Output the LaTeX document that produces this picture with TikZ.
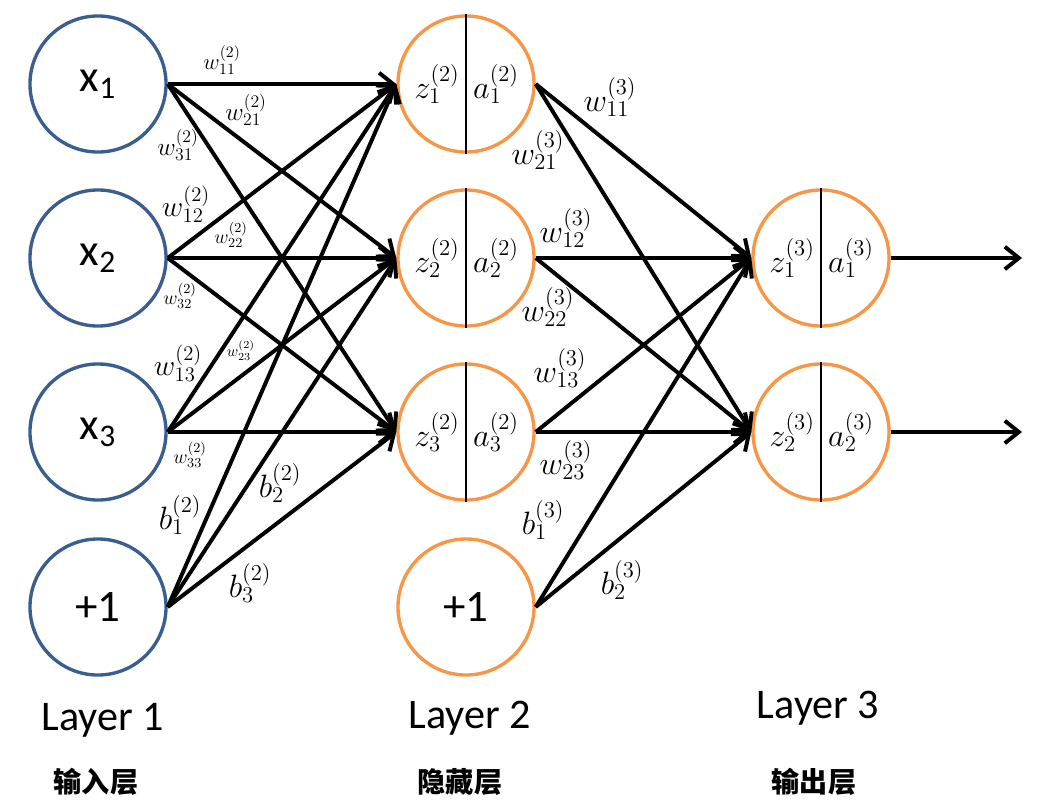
\documentclass[tikz,border=0pt]{standalone}
\usepackage{fix-cm}
\usepackage{fontspec}
\setmainfont{Carlito}
\newfontfamily\cjk{Noto Sans CJK SC}
\usetikzlibrary{arrows.meta,calc}
\definecolor{inblue}{HTML}{3A5F8F}
\definecolor{hidorange}{HTML}{F79646}

\begin{document}
\begin{tikzpicture}[x=0.025cm, y=-0.025cm,
unit/.style={circle,draw,line width=2.4pt,minimum size=3.4cm,inner sep=0pt},
inunit/.style={unit,draw=inblue,font=\fontsize{32}{36}\selectfont},
hidunit/.style={unit,draw=hidorange},
conn/.style={line width=2.8pt,-{Straight Barb[length=10pt,width=16pt]}},
half/.style={font=\fontsize{23}{28}\selectfont},
wt/.style={inner sep=0pt}]
\useasboundingbox (0,0) rectangle (1056,808);

%input layer
\node[inunit] (x1) at (98,84) {x\textsubscript{1}};
\node[inunit] (x2) at (98,258) {x\textsubscript{2}};
\node[inunit] (x3) at (98,432) {x\textsubscript{3}};
\node[inunit] (one1) at (98,607) {+1};

%hidden layer
\foreach \T/\Y in {1/84,2/258,3/432}
{
	\node[hidunit] (h\T) at (466,\Y) {};
	\draw[line width=1.4pt] (h\T.north) -- (h\T.south);
	\node[half] (z\T) at (437,\Y) {$z_\T^{(2)}$};
	\node[half] (a\T) at (496,\Y) {$a_\T^{(2)}$};
}
\node[hidunit,font=\fontsize{32}{36}\selectfont] (one2) at (466,607) {+1};

%output layer
\foreach \T/\Y in {1/258,2/432}
{
	\node[hidunit] (o\T) at (821,\Y) {};
	\draw[line width=1.4pt] (o\T.north) -- (o\T.south);
	\node[half] (zo\T) at (792,\Y) {$z_\T^{(3)}$};
	\node[half] (ao\T) at (851,\Y) {$a_\T^{(3)}$};
	\coordinate (y\T) at (1022,\Y);
	\draw[conn] (o\T.east) -- (y\T);
}

% weights layer 1 -> 2
\foreach \S in {x1,x2,x3,one1}
	\foreach \T in {1,2,3}
		\draw[conn] (\S.east) -- (h\T.west);

% weights layer 2 -> 3
\foreach \S in {h1,h2,h3,one2}
	\foreach \T in {1,2}
		\draw[conn] (\S.east) -- (o\T.west);

% labels 1 -> 2
\node[wt,font=\fontsize{16}{18}\selectfont] (w11) at (222,60) {$w_{11}^{(2)}$};
\node[wt,font=\fontsize{18}{20}\selectfont] (w21) at (246,110) {$w_{21}^{(2)}$};
\node[wt,font=\fontsize{18}{20}\selectfont] (w31) at (178,145) {$w_{31}^{(2)}$};
\node[wt,font=\fontsize{21}{24}\selectfont] (w12) at (186,204) {$w_{12}^{(2)}$};
\node[wt,font=\fontsize{14}{16}\selectfont] (w22) at (231,235) {$w_{22}^{(2)}$};
\node[wt,font=\fontsize{14}{16}\selectfont] (w32) at (180,296) {$w_{32}^{(2)}$};
\node[wt,font=\fontsize{21}{24}\selectfont] (w13) at (178,363) {$w_{13}^{(2)}$};
\node[wt,font=\fontsize{11}{12}\selectfont] (w23) at (241,350) {$w_{23}^{(2)}$};
\node[wt,font=\fontsize{14}{16}\selectfont] (w33) at (190,455) {$w_{33}^{(2)}$};
\node[wt,font=\fontsize{23}{26}\selectfont] (bb1) at (180,515) {$b_1^{(2)}$};
\node[wt,font=\fontsize{23}{26}\selectfont] (bb2) at (280,483) {$b_2^{(2)}$};
\node[wt,font=\fontsize{23}{26}\selectfont] (bb3) at (250,583) {$b_3^{(2)}$};

% labels 2 -> 3
\begin{scope}[nodes={wt,font=\fontsize{23}{26}\selectfont}]
\node (v11) at (610,97) {$w_{11}^{(3)}$};
\node (v21) at (538,150) {$w_{21}^{(3)}$};
\node (v12) at (566,228) {$w_{12}^{(3)}$};
\node (v22) at (548,307) {$w_{22}^{(3)}$};
\node (v13) at (560,368) {$w_{13}^{(3)}$};
\node (v23) at (566,460) {$w_{23}^{(3)}$};
\node (c1) at (543,520) {$b_1^{(3)}$};
\node (c2) at (622,580) {$b_2^{(3)}$};
\end{scope}

% captions
\begin{scope}[nodes={font=\fontsize{30}{34}\selectfont}]
\node (lay1) at (103,720) {Layer 1};
\node (lay2) at (470,718) {Layer 2};
\node (lay3) at (818,708) {Layer 3};
\end{scope}
\begin{scope}[nodes={font=\cjk\bfseries\fontsize{20}{24}\selectfont}]
\node (cap1) at (96,782) {输入层};
\node (cap2) at (460,782) {隐藏层};
\node (cap3) at (814,782) {输出层};
\end{scope}
\end{tikzpicture}
\end{document}
